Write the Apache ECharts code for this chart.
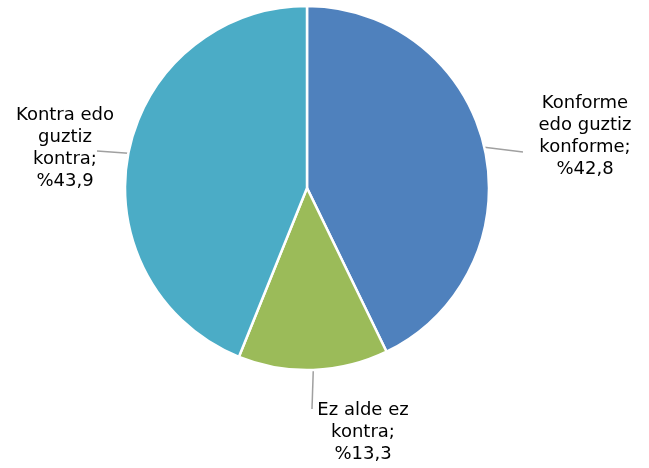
<!DOCTYPE html>
<html><head><meta charset="utf-8">
<script src="https://cdn.jsdelivr.net/npm/echarts@6/dist/echarts.min.js"></script>
<style>html,body{margin:0;padding:0;background:#fff}#c{width:649px;height:468px}</style>
</head><body><div id="c"></div>
<script>
const categories = ["Konforme\nedo guztiz\nkonforme", "Ez alde ez\nkontra", "Kontra edo\nguztiz\nkontra"];
const values = [42.8, 13.3, 43.9];
const colors = ["#4F81BD", "#9BBB59", "#4BACC6"];

const labelAnchors = [
  {x: 585, y: 136},
  {x: 363, y: 432},
  {x: 65, y: 148}
];
const lineEnds = [[523, 152], [312, 409], [97, 151]];

const chart = echarts.init(document.getElementById('c'));
chart.setOption({
  animation: false,
  series: [{
    type: 'pie',
    center: [307, 188],
    radius: 182,
    startAngle: 90,
    clockwise: true,
    data: categories.map((n, i) => ({name: n, value: values[i], itemStyle: {color: colors[i]}})),
    itemStyle: {borderColor: '#fff', borderWidth: 2.5},
    label: {
      show: true,
      formatter: p => p.name + ';\n%' + String(p.value).replace('.', ','),
      fontFamily: 'DejaVu Sans',
      fontSize: 18,
      lineHeight: 22,
      color: '#000',
      align: 'center',
      overflow: 'none',
      width: 130
    },
    labelLine: {show: true, length: 15, length2: 10, lineStyle: {color: '#A0A0A0', width: 1.5}},
    labelLayout: p => {
      const start = p.labelLinePoints ? p.labelLinePoints[0] : lineEnds[p.dataIndex];
      const e = lineEnds[p.dataIndex];
      return {
        x: labelAnchors[p.dataIndex].x,
        y: labelAnchors[p.dataIndex].y,
        align: 'center',
        verticalAlign: 'middle',
        labelLinePoints: [start, e, e]
      };
    }
  }]
});
</script></body></html>
